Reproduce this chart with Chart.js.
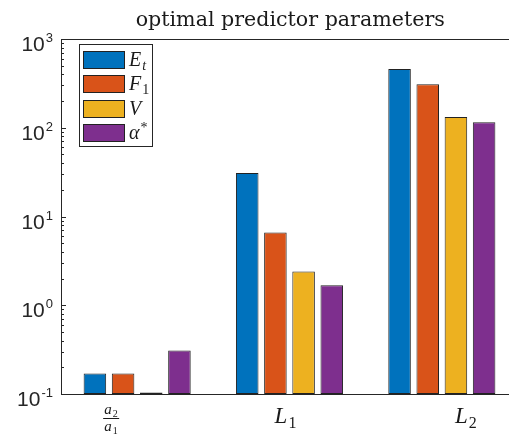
<!DOCTYPE html>
<html>
<head>
<meta charset="utf-8">
<script src="https://cdn.jsdelivr.net/npm/chart.js@4.4.0/dist/chart.umd.min.js"></script>
<style>
  html, body { margin: 0; padding: 0; background: #fff; overflow: hidden; }
  #wrap { width: 509px; height: 437px; overflow: hidden; }
</style>
</head>
<body>
<div id="wrap"><canvas id="paramChart" width="522" height="437"></canvas></div>
<script>
// categories and series
const categories = ["a2/a1", "L1", "L2"];
const valuesEt = [0.17, 31, 460];
const valuesF1 = [0.17, 6.6, 310];
const valuesV = [0.104, 2.4, 132];
const valuesAlpha = [0.31, 1.68, 115];
const yTickExponents = [-1, 0, 1, 2, 3];

// legend text pieces: symbol, subscript, superscript
const legendBase = ["E", "F", "V", "\u03b1"];
const legendSub = ["t", "1", "", ""];
const legendSup = ["", "", "", "*"];

const seriesColors = ["#0072BD", "#D95319", "#EDB120", "#7E2F8E"];
const axisColor = "#262626";
const serif = '"Liberation Serif", "DejaVu Serif", serif';
const sans = '"Liberation Sans", Arial, sans-serif';

// tick labels sit a little off the group centres
const labelShift = [-26, -4, 24];

function drawSub(ctx, base, sub, sup, x, y, size, baseItalic, subItalic) {
  ctx.textAlign = "left";
  ctx.textBaseline = "alphabetic";
  ctx.font = (baseItalic ? "italic " : "") + size + "px " + serif;
  ctx.fillText(base, x, y);
  let w = ctx.measureText(base).width;
  const small = Math.round(size * 0.68);
  if (sub) {
    ctx.font = (subItalic ? "italic " : "") + small + "px " + serif;
    ctx.fillText(sub, x + w + 1, y + size * 0.2);
    w += 1 + ctx.measureText(sub).width;
  }
  if (sup) {
    ctx.font = small + "px " + serif;
    ctx.fillText(sup, x + w + 1, y - size * 0.35);
    w += 1 + ctx.measureText(sup).width;
  }
  return w;
}

const frame = {
  id: "frame",
  afterDraw(chart) {
    const { ctx, chartArea: a, scales } = chart;
    const x = scales.x, y = scales.y;
    ctx.save();
    ctx.strokeStyle = axisColor;
    ctx.fillStyle = axisColor;
    ctx.lineWidth = 1;

    // axes box: left, bottom, top
    ctx.beginPath();
    ctx.moveTo(a.right, a.top + 0.5);
    ctx.lineTo(a.left + 0.5, a.top + 0.5);
    ctx.lineTo(a.left + 0.5, a.bottom + 0.5);
    ctx.lineTo(a.right, a.bottom + 0.5);
    ctx.stroke();

    // log ticks, pointing inwards
    ctx.beginPath();
    yTickExponents.forEach((e) => {
      for (let k = 1; k <= 9; k++) {
        const v = k * Math.pow(10, e);
        if (v > 1000) break;
        const py = Math.round(y.getPixelForValue(v)) + 0.5;
        const len = k === 1 ? 5 : 3;
        ctx.moveTo(a.left, py);
        ctx.lineTo(a.left + len, py);
      }
    });
    ctx.stroke();

    // y tick labels 10^n
    yTickExponents.forEach((e) => {
      const py = y.getPixelForValue(Math.pow(10, e));
      const ex = String(e);
      ctx.textBaseline = "alphabetic";
      ctx.textAlign = "right";
      ctx.font = "13px " + sans;
      const right = a.left - 8;
      ctx.fillText(ex, right, py + 3);
      const ew = ctx.measureText(ex).width;
      ctx.font = "21px " + sans;
      ctx.fillText("10", right - ew - 1, py + 12);
    });

    // category labels
    ctx.fillStyle = "#1a1a1a";
    const c0 = x.getPixelForValue(0) + labelShift[0];
    ctx.font = "italic 15px " + serif;
    const aw = ctx.measureText("a").width;
    ctx.font = "11px " + serif;
    const fw = aw + 1 + ctx.measureText("2").width;
    drawSub(ctx, "a", "2", "", c0 - fw / 2, 414, 15, true, false);
    drawSub(ctx, "a", "1", "", c0 - fw / 2, 431, 15, true, false);
    ctx.fillRect(c0 - fw / 2 - 1, 418, fw + 2, 1);
    [1, 2].forEach((i) => {
      const cx = x.getPixelForValue(i) + labelShift[i];
      ctx.font = "italic 23px " + serif;
      const lw = ctx.measureText("L").width;
      ctx.font = "16px " + serif;
      const tw = lw + 1 + ctx.measureText(String(i)).width;
      drawSub(ctx, "L", String(i), "", cx - tw / 2, 423, 23, true, false);
    });

    // title
    ctx.textAlign = "center";
    ctx.textBaseline = "alphabetic";
    ctx.font = '20.6px "DejaVu Serif", serif';
    ctx.fillText("optimal predictor parameters", (a.left + 0.5 + 519) / 2, 26);

    // legend
    const lx = a.left + 18, ly = a.top + 5;
    ctx.fillStyle = "#fff";
    ctx.fillRect(lx, ly, 73, 102);
    ctx.strokeStyle = axisColor;
    ctx.strokeRect(lx + 0.5, ly + 0.5, 73, 102);
    chart.data.datasets.forEach((ds, i) => {
      const sy = ly + 7 + i * 24.3;
      ctx.fillStyle = ds.backgroundColor;
      ctx.fillRect(lx + 4, Math.round(sy), 42, 18);
      ctx.strokeStyle = "#222";
      ctx.strokeRect(lx + 4.5, Math.round(sy) + 0.5, 41, 17);
      ctx.fillStyle = "#1a1a1a";
      drawSub(ctx, legendBase[i], legendSub[i], legendSup[i], lx + 50, sy + 15, 20, true, i === 0);
    });
    ctx.restore();
  },
};

const series = [valuesEt, valuesF1, valuesV, valuesAlpha];

new Chart(document.getElementById("paramChart"), {
  type: "bar",
  data: {
    labels: categories,
    datasets: series.map((vals, i) => ({
      label: legendBase[i] + legendSub[i] + legendSup[i],
      data: vals,
      backgroundColor: seriesColors[i],
      borderColor: "#222",
      borderWidth: 1,
      borderSkipped: false,
      categoryPercentage: 0.74,
      barPercentage: 0.8,
    })),
  },
  options: {
    responsive: false,
    animation: false,
    layout: { padding: { left: 61, top: 39, right: 4, bottom: 43 } },
    plugins: { legend: { display: false }, tooltip: { enabled: false } },
    scales: {
      x: { display: false },
      y: { type: "logarithmic", display: false, min: 0.1, max: 1000 },
    },
  },
  plugins: [frame],
});
</script>
</body>
</html>
